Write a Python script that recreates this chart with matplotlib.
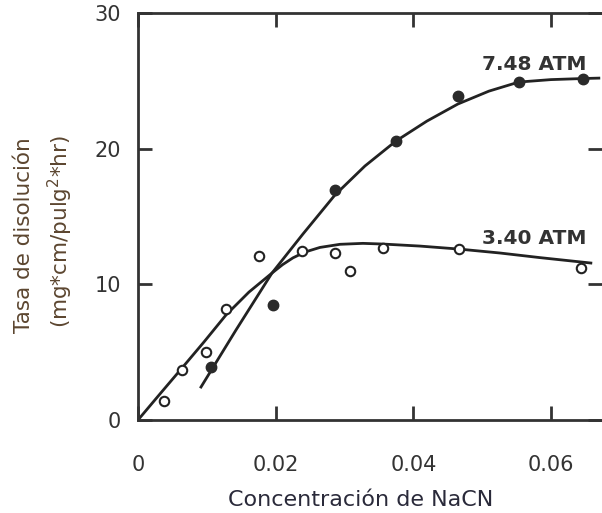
import matplotlib
matplotlib.use("Agg")
import matplotlib.pyplot as plt

# ---- data ----
conc_340 = [0.0038, 0.0064, 0.0099, 0.0128, 0.0176, 0.0238, 0.0286, 0.0308, 0.0356, 0.0466, 0.0643]
rate_340 = [1.40, 3.68, 5.01, 8.18, 12.09, 12.45, 12.31, 10.98, 12.67, 12.60, 11.20]

conc_748 = [0.0106, 0.0196, 0.0286, 0.0375, 0.0465, 0.0553, 0.0646]
rate_748 = [3.91, 8.47, 16.95, 20.56, 23.88, 24.91, 25.13]

# hand-drawn trend curves
curve_340_x = [0.0, 0.00319, 0.00639, 0.00958, 0.01278, 0.01612, 0.01946, 0.02100, 0.02250, 0.02425,
               0.02643, 0.02933, 0.03267, 0.03557, 0.04095, 0.04661, 0.05256, 0.05837, 0.06578]
curve_340_y = [0.0, 1.92, 3.83, 5.75, 7.74, 9.43, 10.83, 11.45, 11.95, 12.38,
               12.72, 12.95, 13.02, 12.97, 12.82, 12.60, 12.31, 11.97, 11.57]

curve_748_x = [0.00915, 0.01423, 0.01946, 0.02396, 0.02860, 0.03296, 0.03746, 0.04196,
               0.04646, 0.05097, 0.05532, 0.05997, 0.06461, 0.06694]
curve_748_y = [2.43, 6.63, 10.83, 13.71, 16.58, 18.72, 20.56, 22.03,
               23.29, 24.24, 24.91, 25.09, 25.17, 25.20]

x_ticks = [0, 0.02, 0.04, 0.06]
x_tick_labels = ["0", "0.02", "0.04", "0.06"]
y_ticks = [0, 10, 20, 30]
y_tick_labels = ["0", "10", "20", "30"]

label_748 = "7.48 ATM"
label_340 = "3.40 ATM"
x_title = "Concentración de NaCN"
y_title_1 = "Tasa de disolución"
y_title_2 = "(mg*cm/pulg$^2$*hr)"

# ---- figure ----
W, H = 602, 513
fig = plt.figure(figsize=(W / 100, H / 100), dpi=100)
plt.rcParams['font.family'] = ['DejaVu Sans']

ax_left, ax_right, ax_bottom, ax_top = 138, 602, 420, 13
ax = fig.add_axes([ax_left / W, 1 - ax_bottom / H, (ax_right - ax_left) / W, (ax_bottom - ax_top) / H])
ax.set_xlim(0, 0.0674)
ax.set_ylim(0, 30)

ink = "#222222"
ax.plot(curve_340_x, curve_340_y, color=ink, lw=2.0, solid_joinstyle='round', zorder=2)
ax.plot(curve_748_x, curve_748_y, color=ink, lw=2.0, solid_joinstyle='round', zorder=2)
ax.plot(conc_340, rate_340, linestyle='none', marker='o', ms=6.8, mfc='white', mec=ink, mew=1.5, zorder=3)
ax.plot(conc_748, rate_748, linestyle='none', marker='o', ms=7.5, mfc='#2a2a2a', mec='#2a2a2a', zorder=3)

ax.text(0.0576, 26.2, label_748, fontsize=14.5, fontweight='bold', color='#333333', ha='center', va='center')
ax.text(0.0576, 13.4, label_340, fontsize=14.5, fontweight='bold', color='#333333', ha='center', va='center')

for s in ['left', 'bottom', 'top']:
    ax.spines[s].set_linewidth(2.0)
    ax.spines[s].set_color('#333333')
ax.spines['right'].set_visible(False)

ax.set_xticks(x_ticks)
ax.set_xticklabels(x_tick_labels)
ax.set_yticks(y_ticks)
ax.set_yticklabels(y_tick_labels)
ax.tick_params(direction='in', length=10, width=2.0, color='#333333',
               top=True, right=True, labelsize=15, labelcolor='#333333')
ax.tick_params(axis='x', pad=25)
ax.tick_params(axis='y', pad=12)

fig.text(361 / W, 1 - 500 / H, x_title, fontsize=16, color='#2a2a3a', ha='center', va='center')
fig.text(24 / W, 1 - 235 / H, y_title_1, fontsize=15.5, color='#5c4630', rotation=90, ha='center', va='center')
fig.text(60 / W, 1 - 232 / H, y_title_2, fontsize=15.5, color='#5c4630', rotation=90, ha='center', va='center')

fig.savefig("out.png", dpi=100)
